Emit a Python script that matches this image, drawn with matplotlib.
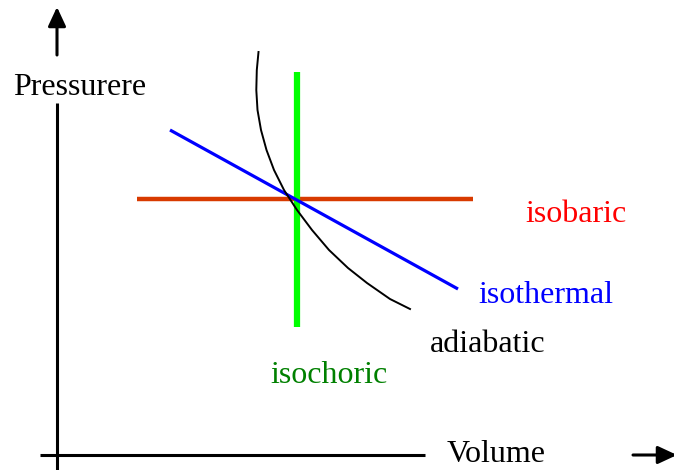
import matplotlib

matplotlib.use("Agg")
import matplotlib.pyplot as plt

plt.rcParams["font.family"] = ["Liberation Serif", "DejaVu Serif"]

# sketch is drawn in pixel units of the 674x470 image (y grows downward)
isobaric_x = [137, 473]
isobaric_y = [199, 199]

isochoric_x = [297, 297]
isochoric_y = [72, 327]

isothermal_x = [170, 458]
isothermal_y = [130, 289]

adiabatic_x = [258.5, 256.8, 256.3, 257.5, 261, 266.5, 274, 284, 297, 312, 329, 348, 367, 390, 410]
adiabatic_y = [52, 70, 90, 110, 130, 150, 170, 190, 210, 230, 250, 268, 283, 299, 309]

labels = ["Pressurere", "Volume", "isobaric", "isothermal", "adiabatic", "isochoric"]
label_x = [13, 447, 525, 478, 430, 270]
label_y = [95, 462, 222, 303, 352, 383]
label_colors = ["black", "black", "#FF0000", "#0000FF", "black", "#008000"]

fig = plt.figure(figsize=(6.74, 4.70), dpi=100)
ax = fig.add_axes([0, 0, 1, 1])
ax.set_xlim(0, 674)
ax.set_ylim(470, 0)
ax.set_axis_off()

# axes with arrows, broken where the axis titles sit
arrow = dict(arrowstyle="-|>,head_length=0.58,head_width=0.27", color="black", lw=2.2,
             shrinkA=0, shrinkB=0, mutation_scale=20)
ax.plot([57, 57], [470, 103], color="black", lw=2.2, solid_capstyle="butt")
ax.annotate("", xy=(57, 7), xytext=(57, 55), arrowprops=arrow, annotation_clip=False)
ax.plot([40, 425], [455, 455], color="black", lw=2.2, solid_capstyle="butt")
ax.annotate("", xy=(677, 455), xytext=(633, 455), arrowprops=arrow, annotation_clip=False)

ax.plot(isobaric_x, isobaric_y, color="#D83A00", lw=3.2, solid_capstyle="butt")
ax.plot(isochoric_x, isochoric_y, color="#00FF00", lw=4.5, solid_capstyle="butt")
ax.plot(isothermal_x, isothermal_y, color="#0000FF", lw=2.3, solid_capstyle="butt")
ax.plot(adiabatic_x, adiabatic_y, color="black", lw=1.4, solid_joinstyle="round")

for text, x, y, c in zip(labels, label_x, label_y, label_colors):
    ax.text(x, y, text, color=c, fontsize=23, ha="left", va="baseline")

fig.savefig("out.png", dpi=100)
plt.close(fig)
